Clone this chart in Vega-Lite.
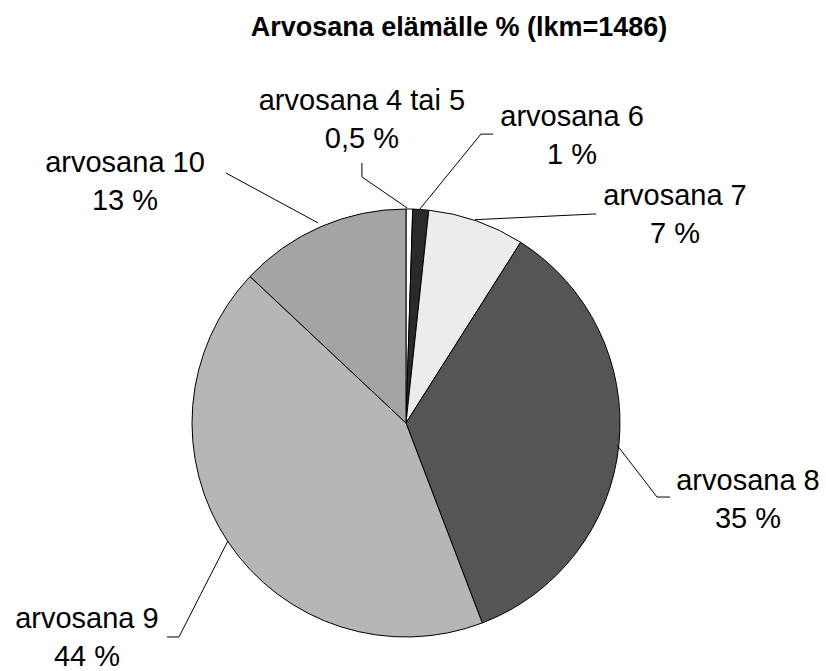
{
  "$schema": "https://vega.github.io/schema/vega-lite/v6.json",
  "width": 826,
  "height": 611,
  "autosize": {"type": "none"},
  "padding": {"top": 60, "left": 0, "right": 0, "bottom": 0},
  "background": "white",
  "title": {
    "text": "Arvosana elämälle % (lkm=1486)",
    "font": "Liberation Sans",
    "fontSize": 27,
    "fontWeight": "bold",
    "color": "black",
    "anchor": "middle",
    "baseline": "alphabetic",
    "offset": -3,
    "dx": 46
  },
  "config": {"view": {"stroke": null}},
  "datasets": {
    "slices": [
      {"grade": "arvosana 4 tai 5", "pct": 0.5, "ord": 1, "cx": 0, "cy": 0},
      {"grade": "arvosana 6", "pct": 1.2, "ord": 2, "cx": 0, "cy": 0},
      {"grade": "arvosana 7", "pct": 7.3, "ord": 3, "cx": 0, "cy": 0},
      {"grade": "arvosana 8", "pct": 35.2, "ord": 4, "cx": 0, "cy": 0},
      {"grade": "arvosana 9", "pct": 42.8, "ord": 5, "cx": 0, "cy": 0},
      {"grade": "arvosana 10", "pct": 13.0, "ord": 6, "cx": 0, "cy": 0}
    ],
    "leaders": [
      {"id": "45", "seq": 1, "ux": -0.206, "uy": 1.215},
      {"id": "45", "seq": 2, "ux": -0.206, "uy": 1.15},
      {"id": "45", "seq": 3, "ux": 0.005, "uy": 1.005},
      {"id": "6", "seq": 1, "ux": 0.407, "uy": 1.35},
      {"id": "6", "seq": 2, "ux": 0.35, "uy": 1.35},
      {"id": "6", "seq": 3, "ux": 0.065, "uy": 1.0},
      {"id": "7", "seq": 1, "ux": 0.888, "uy": 0.977},
      {"id": "7", "seq": 2, "ux": 0.322, "uy": 0.95},
      {"id": "8", "seq": 1, "ux": 0.986, "uy": -0.103},
      {"id": "8", "seq": 2, "ux": 1.173, "uy": -0.346},
      {"id": "8", "seq": 3, "ux": 1.234, "uy": -0.346},
      {"id": "9", "seq": 1, "ux": -0.832, "uy": -0.551},
      {"id": "9", "seq": 2, "ux": -1.061, "uy": -1.0},
      {"id": "9", "seq": 3, "ux": -1.117, "uy": -1.0},
      {"id": "10", "seq": 1, "ux": -0.841, "uy": 1.168},
      {"id": "10", "seq": 2, "ux": -0.411, "uy": 0.935}
    ],
    "labels": [
      {"label": "arvosana 4 tai 5\n0,5 %", "ux": -0.206, "uy": 1.505},
      {"label": "arvosana 6\n1 %", "ux": 0.776, "uy": 1.43},
      {"label": "arvosana 7\n7 %", "ux": 1.257, "uy": 1.061},
      {"label": "arvosana 8\n35 %", "ux": 1.598, "uy": -0.271},
      {"label": "arvosana 9\n44 %", "ux": -1.491, "uy": -0.916},
      {"label": "arvosana 10\n13 %", "ux": -1.313, "uy": 1.215}
    ]
  },
  "layer": [
    {
      "data": {"name": "slices"},
      "mark": {"type": "arc", "outerRadius": 214, "stroke": "black", "strokeWidth": 1},
      "encoding": {
        "theta": {"field": "pct", "type": "quantitative", "stack": true},
        "order": {"field": "ord", "type": "quantitative"},
        "x": {"field": "cx", "type": "quantitative", "scale": {"domain": [-1.8972, 1.9626], "nice": false, "zero": false}, "axis": null},
        "y": {"field": "cy", "type": "quantitative", "scale": {"domain": [-1.1589, 1.6963], "nice": false, "zero": false}, "axis": null},
        "color": {
          "field": "grade",
          "type": "nominal",
          "legend": null,
          "scale": {
            "domain": ["arvosana 4 tai 5", "arvosana 6", "arvosana 7", "arvosana 8", "arvosana 9", "arvosana 10"],
            "range": ["#ffffff", "#2a2a2a", "#ececec", "#555555", "#b6b6b6", "#a4a4a4"]
          }
        }
      }
    },
    {
      "data": {"name": "leaders"},
      "mark": {"type": "line", "color": "black", "strokeWidth": 1},
      "encoding": {
        "x": {"field": "ux", "type": "quantitative"},
        "y": {"field": "uy", "type": "quantitative"},
        "detail": {"field": "id"},
        "order": {"field": "seq", "type": "quantitative"}
      }
    },
    {
      "data": {"name": "labels"},
      "mark": {"type": "text", "font": "Liberation Sans", "fontSize": 29, "lineHeight": 38, "lineBreak": "\n", "align": "center", "baseline": "middle", "color": "black"},
      "encoding": {
        "x": {"field": "ux", "type": "quantitative"},
        "y": {"field": "uy", "type": "quantitative"},
        "text": {"field": "label"}
      }
    }
  ]
}
